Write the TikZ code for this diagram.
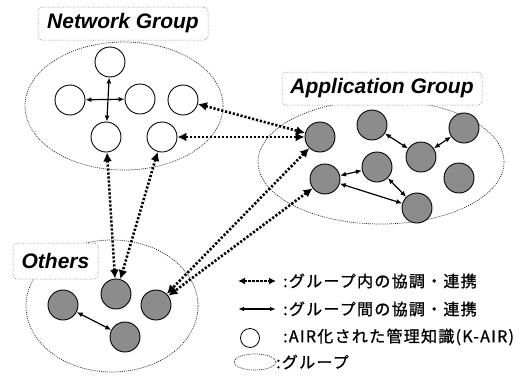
\documentclass[tikz,border=0pt]{standalone}
\usepackage{fontspec}
\newfontfamily\labfont{Liberation Sans}
\newfontfamily\jpfont{Noto Sans CJK JP}[LetterSpace=8,FakeBold=1]
\usetikzlibrary{arrows.meta,shapes.geometric}
\begin{document}
\begin{tikzpicture}[x=1pt,y=-1pt,
  kn/.style={circle,draw=black,line width=0.9pt,minimum size=30pt,inner sep=0pt,fill=white},
  kg/.style={kn,fill=black!45},
  grp/.style={ellipse,draw=black!85,line width=0.7pt,dash pattern=on 1pt off 1.1pt,inner sep=0pt},
  lbl/.style={rectangle,rounded corners=4pt,draw=black!55,line width=0.5pt,dash pattern=on 1pt off 1.5pt,fill=white,inner sep=0pt,font=\labfont\bfseries\itshape\fontsize{21}{21}\selectfont},
  intra/.style={line width=1.2pt,{Latex[length=6pt,width=5pt]}-{Latex[length=6pt,width=5pt]}},
  inter/.style={line width=2.6pt,dash pattern=on 2.2pt off 1.8pt,{Latex[length=9pt,width=9pt]}-{Latex[length=9pt,width=9pt]}},
  lgtxt/.style={anchor=west,inner sep=0pt,font=\jpfont\fontsize{16}{16}\selectfont}]
\useasboundingbox (0,0) rectangle (523,378);
% groups
\node[grp,minimum width=198pt,minimum height=128pt] (gn) at (124,106) {};
\node[grp,minimum width=246pt,minimum height=124pt] (ga) at (381,162) {};
\node[grp,minimum width=172pt,minimum height=132pt] (go) at (112,306) {};
% labels
\node[lbl,minimum width=170pt,minimum height=33pt] (ln) at (123,23.5) {Network Group};
\node[lbl,minimum width=200pt,minimum height=33pt] (la) at (382,88.5) {Application Group};
\node[lbl,minimum width=85pt,minimum height=36pt] (lo) at (55.5,261) {Others};
% network nodes
\node[kn] (nt) at (110,62) {};
\node[kn] (nl) at (70,100) {};
\node[kn] (nm) at (140,99) {};
\node[kn] (nr) at (183,100) {};
\node[kn] (nbl) at (106,137) {};
\node[kn] (nbr) at (162,137) {};
% application nodes
\node[kg] (a1) at (320,137) {};
\node[kg] (a2) at (372,125) {};
\node[kg] (a3) at (464,128) {};
\node[kg] (a4) at (421,157) {};
\node[kg] (a5) at (377,167) {};
\node[kg] (a6) at (325,179) {};
\node[kg] (a7) at (459,178) {};
\node[kg] (a8) at (417,208) {};
% others nodes
\node[kg] (o1) at (63,305) {};
\node[kg] (o2) at (116,294) {};
\node[kg] (o3) at (156,305) {};
\node[kg] (o4) at (125,337) {};
% solid arrows
\draw[intra] (nl) -- (nm);
\draw[intra] (nt) -- (nbl);
\draw[intra] (a2) -- (a4);
\draw[intra] (a4) -- (a3);
\draw[intra] (a6) -- (a5);
\draw[intra] (a5) -- (a8);
\draw[intra] (a6) -- (a8);
\draw[intra] (o1) -- (o4);
% dotted arrows
\draw[inter] (nr) -- (a1);
\draw[inter] (nbr) -- (a1);
\draw[inter] (nbl) -- (o2);
\draw[inter] (nbr) -- (o2);
\draw[inter] (a1) -- (o3);
\draw[inter] (a6) -- (o3);
% legend
\coordinate (l1a) at (238,281); \coordinate (l1b) at (276,281);
\coordinate (l2a) at (238,309); \coordinate (l2b) at (276,309);
\draw[inter,line width=2pt,{Latex[length=7pt,width=7pt]}-{Latex[length=7pt,width=7pt]}] (l1a) -- (l1b);
\draw[line width=1.1pt,{Latex[length=6pt,width=4.5pt]}-{Latex[length=6pt,width=4.5pt]}] (l2a) -- (l2b);
\node[circle,draw=black,line width=0.8pt,minimum size=19pt,inner sep=0pt] (lc) at (250,338) {};
\node[grp,minimum width=42pt,minimum height=16pt] (le) at (255,362) {};
\node[lgtxt] (t1) at (283,281) {:グループ内の協調・連携};
\node[lgtxt] (t2) at (283,309) {:グループ間の協調・連携};
\node[lgtxt] (t3) at (283,337) {:AIR化された管理知識(K-AIR)};
\node[lgtxt] (t4) at (276,362) {:グループ};
\end{tikzpicture}
\end{document}
